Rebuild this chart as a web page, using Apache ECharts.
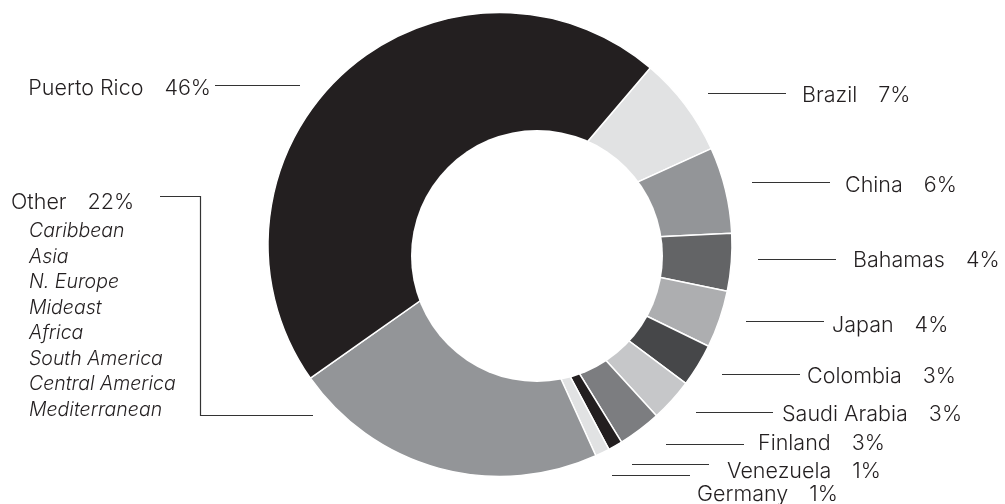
<!DOCTYPE html>
<html>
<head>
<meta charset="utf-8">
<script src="https://cdn.jsdelivr.net/npm/echarts@6/dist/echarts.min.js"></script>
<style>
  html, body { margin: 0; padding: 0; background: #fff; }
  #chart { width: 1005px; height: 504px; }
</style>
</head>
<body>
<div id="chart"></div>
<script>
// Share of total, in percent, listed clockwise from Brazil
const countries = ['Brazil', 'China', 'Bahamas', 'Japan', 'Colombia', 'Saudi Arabia',
  'Finland', 'Venezuela', 'Germany', 'Other', 'Puerto Rico'];
const shares = [7, 6, 4, 4, 3, 3, 3, 1, 1, 22, 46];
const shades = ['#e1e2e3', '#939598', '#636466', '#adaeb0', '#464749', '#c6c7c9',
  '#7c7d80', '#231f20', '#e1e2e3', '#939598', '#231f20'];
// Regions grouped under "Other"
const otherRegions = ['Caribbean', 'Asia', 'N. Europe', 'Mideast', 'Africa',
  'South America', 'Central America', 'Mediterranean'];

// Where each label and its rule sit
const labelPlace = {
  'Puerto Rico': { x: 211, y: 89, align: 'right', line: [[215, 85.5], [300, 85.5]] },
  'Brazil': { x: 802, y: 96, line: [[708, 93.5], [786, 93.5]] },
  'China': { x: 845, y: 186, line: [[752, 182.5], [830, 182.5]] },
  'Bahamas': { x: 853, y: 261, line: [[758, 259.5], [836, 259.5]] },
  'Japan': { x: 832, y: 326, line: [[746, 321.5], [824, 321.5]] },
  'Colombia': { x: 807, y: 377, line: [[722, 374.5], [800, 374.5]] },
  'Saudi Arabia': { x: 782, y: 415, line: [[696, 412.5], [773, 412.5]] },
  'Finland': { x: 758, y: 444, line: [[666, 444.5], [744, 444.5]] },
  'Venezuela': { x: 727, y: 472, line: [[632, 464.5], [709, 464.5]] },
  'Germany': { x: 697, y: 495, line: [[612, 475.5], [690, 475.5]] },
  'Other': { x: 11, y: 186, va: 'top',
    line: [[160, 196.5], [200.5, 196.5], [200.5, 415.5], [313, 415.5]] }
};

const ink = '#231f20';
const fontFamily = 'Inter';

const chart = echarts.init(document.getElementById('chart'), null, { renderer: 'canvas' });

chart.setOption({
  backgroundColor: '#ffffff',
  animation: false,
  series: [{
    type: 'pie',
    center: [500, 244.5],
    radius: [0, 232],
    startAngle: 49.6,
    clockwise: true,
    avoidLabelOverlap: false,
    itemStyle: { borderColor: '#ffffff', borderWidth: 1.5 },
    data: countries.map((name, i) => ({
      name: name,
      value: shares[i],
      itemStyle: { color: shades[i] }
    })),
    label: {
      show: true,
      position: 'outside',
      color: ink,
      fontFamily: fontFamily,
      fontWeight: 300,
      fontSize: 21.5,
      formatter: function (p) {
        if (p.name === 'Other') {
          return '{n|' + p.name + '}{v|' + p.value + '%}\n' +
            otherRegions.map(r => '{i|' + r + '}').join('\n');
        }
        return '{n|' + p.name + '}{v|' + p.value + '%}';
      },
      rich: {
        n: { fontFamily: fontFamily, fontWeight: 300, fontSize: 21.5, color: ink, lineHeight: 32.5 },
        v: { fontFamily: fontFamily, fontWeight: 300, fontSize: 21.5, color: ink, lineHeight: 32.5,
          padding: [0, 0, 0, 21] },
        i: { fontFamily: fontFamily, fontWeight: 300, fontStyle: 'italic', fontSize: 19.5,
          color: ink, lineHeight: 25.5, padding: [0, 0, 0, 18] }
      }
    },
    labelLine: {
      show: true,
      smooth: false,
      lineStyle: { color: '#333333', width: 1.2 }
    },
    labelLayout: function (params) {
      const place = labelPlace[countries[params.dataIndex]];
      return {
        x: place.x,
        y: place.y,
        align: place.align || 'left',
        verticalAlign: place.va || 'middle',
        labelLinePoints: place.line
      };
    }
  }],
  // Donut hole, set slightly off the ring's centre
  graphic: [{
    type: 'circle',
    z: 100,
    silent: true,
    shape: { cx: 537, cy: 256, r: 126 },
    style: { fill: '#ffffff' }
  }]
});
</script>
</body>
</html>
